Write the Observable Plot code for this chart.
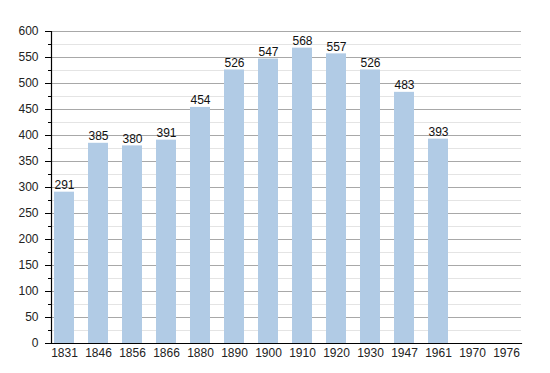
<!DOCTYPE html>
<html>
<head>
<meta charset="utf-8">
<script src="https://cdn.jsdelivr.net/npm/d3@7"></script>
<script src="https://cdn.jsdelivr.net/npm/@observablehq/plot@0.6"></script>
<style>
  html, body { margin: 0; padding: 0; background: #fff; }
  svg { display: block; }
</style>
</head>
<body>
<div id="chart"></div>
<script>
const years = ["1831","1846","1856","1866","1880","1890","1900","1910","1920","1930","1947","1961","1970","1976"];
const population = [291, 385, 380, 391, 454, 526, 547, 568, 557, 526, 483, 393, null, null];
const majorTicks = [0,50,100,150,200,250,300,350,400,450,500,550,600];
const minorTicks = [25,75,125,175,225,275,325,375,425,475,525,575];

const data = years.map((y, i) => ({year: y, value: population[i]}));
const bars = data.filter(d => d.value != null);

const chart = Plot.plot({
  width: 550,
  height: 373,
  marginLeft: 51,
  marginRight: 29,
  marginTop: 31,
  marginBottom: 30,
  style: {fontFamily: "Liberation Sans, Arial, sans-serif", fontSize: "12px", color: "#222", background: "#fff"},
  x: {domain: years, range: [51, 520], paddingInner: 0.4, paddingOuter: 0, label: null},
  y: {domain: [0, 600], range: [343, 31], label: null},
  marks: [
    Plot.ruleY(minorTicks, {stroke: "#e4e4e4", strokeWidth: 1}),
    Plot.ruleY(majorTicks.filter(v => v > 0), {stroke: "#a8a8a8", strokeWidth: 1}),
    Plot.barY(bars, {x: "year", y: "value", fill: "#b1cbe5"}),
    Plot.text(bars, {x: "year", y: "value", text: d => String(d.value), lineAnchor: "bottom", dy: -3, fill: "#111", fontSize: 12}),
    Plot.axisY(minorTicks, {tickSize: 3, tickFormat: () => "", stroke: "#000"}),
    Plot.axisY(majorTicks, {tickSize: 6, tickPadding: 7, stroke: "#000", fill: "#222", fontSize: 12}),
    Plot.axisX({tickSize: 0, tickPadding: 5, fill: "#222", fontSize: 12}),
    Plot.frame({anchor: "bottom", stroke: "#000", strokeWidth: 1.2}),
    Plot.frame({anchor: "left", stroke: "#000", strokeWidth: 1.2})
  ]
});
document.getElementById("chart").appendChild(chart);
</script>
</body>
</html>
